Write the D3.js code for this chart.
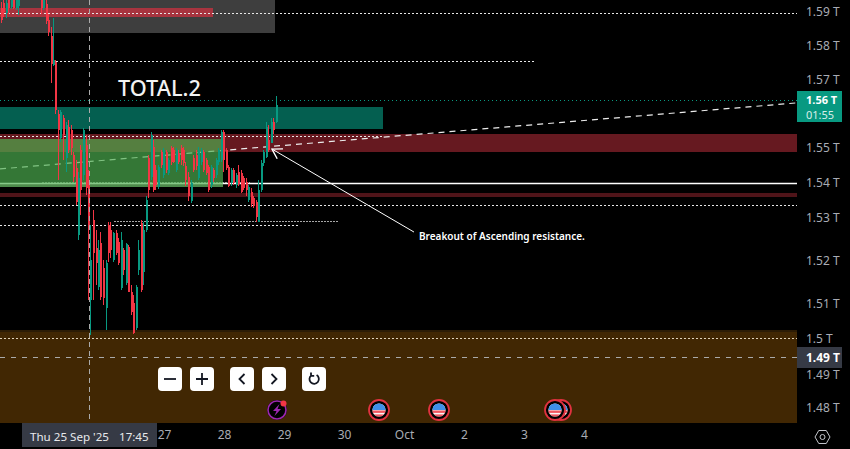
<!DOCTYPE html>
<html>
<head>
<meta charset="utf-8">
<script src="https://cdnjs.cloudflare.com/ajax/libs/d3/7.9.0/d3.min.js"></script>
<style>
html,body{margin:0;padding:0;background:#000;overflow:hidden}
svg{display:block}
text{font-family:"Noto Sans",sans-serif}
</style>
</head>
<body>
<svg id="chart" width="850" height="449"></svg>
<script>
// Market cap values are in billions of USD
const firstCandle = "2025-09-24T06:12";
const candleOpen = [1590.6,1592.0,1589.2,1592.8,1590.9,1593.6,1590.6,1591.1,1596.1,1595.6,1596.7,1595.3,1596.1,1595.0,1596.1,1595.0,1593.9,1590.6,1591.7,1587.3,1582.8,1574.8,1575.6,1561.2,1554.6,1560.1,1549.0,1557.6,1556.8,1549.9,1546.3,1527.7,1551.3,1544.3,1552.6,1541.6,1509.7,1531.9,1524.1,1513.3,1525.5,1518.6,1507.5,1530.5,1529.1,1520.8,1528.3,1525.8,1513.0,1523.6,1514.4,1524.4,1511.9,1508.9,1502.0,1518.0,1531.0,1517.4,1529.1,1549.0,1543.8,1552.1,1545.7,1541.0,1550.7,1544.3,1550.7,1544.9,1551.8,1551.3,1545.7,1550.4,1551.8,1551.3,1546.8,1543.8,1537.1,1549.0,1549.9,1543.5,1547.9,1550.7,1548.5,1546.5,1541.6,1545.7,1544.3,1547.9,1548.5,1556.2,1551.3,1546.5,1542.1,1545.7,1541.6,1545.1,1544.9,1543.5,1542.4,1537.4,1539.6,1538.0,1536.8,1531.3,1540.2,1547.6,1549.3,1554.0,1553.2,1559.0,1559.0];
const candleClose = [1587.3,1589.5,1592.0,1590.6,1593.4,1590.6,1593.6,1593.9,1595.0,1596.7,1595.3,1596.1,1595.0,1596.1,1595.0,1593.6,1590.6,1593.9,1587.0,1583.9,1575.1,1576.2,1562.3,1556.8,1561.8,1555.4,1558.2,1551.3,1551.8,1543.8,1536.8,1543.5,1540.2,1556.8,1540.7,1529.6,1520.8,1522.7,1519.9,1523.6,1510.5,1510.3,1519.9,1522.7,1523.6,1528.3,1522.7,1519.9,1526.3,1518.0,1525.2,1511.9,1506.4,1500.6,1513.3,1523.6,1512.5,1529.1,1537.4,1540.2,1555.4,1540.2,1541.6,1546.5,1547.1,1551.3,1545.7,1548.5,1547.9,1547.9,1551.3,1547.9,1548.5,1547.6,1542.9,1538.5,1542.1,1545.7,1546.8,1551.3,1551.3,1545.7,1544.9,1540.2,1546.5,1543.5,1548.5,1551.3,1556.2,1548.5,1546.3,1541.3,1545.7,1542.1,1544.3,1541.8,1539.6,1540.7,1540.2,1541.0,1536.3,1535.7,1532.7,1540.2,1547.6,1550.7,1557.6,1551.3,1559.0,1556.8,1563.7];
const candleHigh = [1592.2,1592.8,1593.4,1593.9,1594.2,1594.5,1594.5,1595.0,1597.0,1597.2,1597.8,1596.7,1597.2,1596.7,1597.0,1595.6,1595.0,1595.0,1592.8,1588.9,1585.3,1587.8,1576.2,1562.3,1562.3,1561.0,1559.0,1559.6,1558.2,1550.7,1548.5,1545.1,1552.6,1557.3,1555.4,1545.7,1530.5,1534.6,1529.1,1526.3,1528.5,1520.8,1520.8,1531.3,1531.3,1528.5,1529.1,1526.9,1528.5,1524.1,1525.5,1524.9,1513.8,1511.1,1513.8,1526.3,1531.9,1531.3,1538.5,1549.9,1556.2,1554.0,1547.1,1547.1,1551.3,1551.8,1551.3,1549.0,1552.4,1552.1,1551.8,1551.3,1552.6,1552.1,1547.9,1545.1,1542.9,1549.9,1551.3,1552.1,1551.8,1551.3,1549.0,1547.1,1547.1,1546.3,1549.0,1551.8,1556.8,1556.8,1551.8,1547.1,1546.3,1546.3,1544.9,1547.1,1545.7,1544.0,1543.5,1541.6,1540.7,1538.5,1537.4,1542.9,1548.5,1551.3,1559.0,1558.2,1560.1,1560.1,1566.2];
const candleLow = [1586.4,1588.1,1587.8,1588.9,1590.3,1590.3,1590.0,1588.6,1594.5,1595.0,1594.7,1594.5,1594.2,1594.5,1593.9,1593.1,1588.9,1590.0,1586.1,1582.8,1569.8,1574.5,1561.2,1542.9,1553.5,1548.5,1545.2,1550.4,1549.9,1542.4,1536.0,1526.3,1533.2,1542.9,1538.8,1509.7,1500.0,1509.7,1513.8,1512.5,1509.7,1508.3,1501.4,1520.2,1521.3,1520.2,1522.2,1519.4,1512.5,1516.6,1513.8,1511.9,1505.5,1500.3,1501.4,1516.6,1511.9,1513.8,1528.5,1538.0,1542.9,1539.6,1540.2,1540.4,1546.3,1543.5,1544.9,1544.3,1547.1,1547.6,1545.2,1547.4,1547.1,1546.8,1541.3,1537.1,1536.6,1545.2,1545.7,1542.9,1547.1,1545.2,1544.3,1539.6,1540.7,1542.4,1543.5,1547.1,1547.9,1545.2,1545.7,1541.0,1541.3,1541.6,1540.7,1541.3,1539.3,1540.2,1538.5,1536.8,1535.5,1535.2,1531.3,1531.3,1539.6,1546.8,1549.0,1550.7,1553.5,1555.7,1558.7];

const priceTicks = [1590.0,1580.6,1571.2,1552.1,1542.4,1532.7,1521.0,1509.1,1499.2,1489.2,1480.1];
const priceLabels = ["1.59 T","1.58 T","1.57 T","1.55 T","1.54 T","1.53 T","1.52 T","1.51 T","1.5 T","1.49 T","1.48 T"];
const dateTicks = ["2025-09-27","2025-09-28","2025-09-29","2025-09-30","2025-10-01","2025-10-02","2025-10-03","2025-10-04"];
const dateLabels = ["27","28","29","30","Oct","2","3","4"];

const lastPrice = 1565.2, lastPriceLabel = "1.56 T", countdown = "01:55";
const crossPrice = 1493.9, crossPriceLabel = "1.49 T";
const crossTime = "2025-09-25T17:45", crossDateLabel = "Thu 25 Sep '25", crossTimeLabel = "17:45";

// [top price, bottom price, end time, colour key]; all run from the left edge
const zoneTop    = [1600.0,1590.6,1563.2,1555.7,1539.3,1501.4,1500.8];
const zoneBottom = [1583.7,1588.1,1557.1,1550.7,1538.2,1500.8,1470.0];
const zoneEnd    = ["2025-09-28T20:00","2025-09-27T19:12","2025-09-30T15:12",null,null,null,null];
const greenZone  = {top:1554.3,bottom:1541.0,stripTop:1542.0,end:"2025-09-27T23:12"};

const dottedPrice = [1589.1,1576.0,1555.1,1536.0,1530.5,1499.2];
const dottedStart = [null,null,null,null,null,null];
const dottedEnd   = [null,"2025-10-03T04:00","2025-09-30T15:12",null,"2025-09-29T06:00",null];
const greyDottedPrice = [1542.5,1531.7];
const greyDottedStart = ["2025-09-24T22:48","2025-09-26T03:36"];
const greyDottedEnd   = ["2025-09-28T10:00","2025-09-29T21:12"];
const solidPrice = 1542.0;

const trendTimes = ["2025-09-24T06:00","2025-10-07T12:48"];
const trendPrices = [1546.0,1564.3];
const arrowTimes = ["2025-10-01T03:36","2025-09-28T18:48"];
const arrowPrices = [1528.5,1551.5];
const noteTime = "2025-10-01T05:36", notePrice = 1526.3, noteText = "Breakout of Ascending resistance.";
const titleText = "TOTAL.2";

const eventTimes = ["2025-09-30T13:36","2025-10-01T13:36","2025-10-03T14:24","2025-10-03T12:00"];
const sparkTime = "2025-09-28T20:48";

const W = 797, H = 423;
const t = s => new Date((s.length === 10 ? s + "T00:00" : s) + "Z");
const x = d3.scaleUtc().domain([t("2025-09-27"), t("2025-10-04")]).range([165, 585]);
const y = d3.scaleLinear().domain([1592.8, 1475.6]).range([0, 423]);
const crisp = v => Math.round(v) + 0.5;
const xEdge = (s, fallback) => s ? x(t(s)) : fallback;

const svg = d3.select("#chart");
svg.append("rect").attr("width", 850).attr("height", 449).attr("fill", "#000");
svg.append("defs").append("clipPath").attr("id", "plot").append("rect").attr("width", W).attr("height", H);
const defs = svg.select("defs");
defs.append("clipPath").attr("id", "flagClip").append("circle").attr("r", 6.6);

const plot = svg.append("g").attr("clip-path", "url(#plot)");

// zones
const zoneColors = ["#3e3e3e","#a8343f","#045f50","#661920","#4f1419","#2c1c05","#412703"];
zoneTop.forEach((top, i) => {
  const x1 = xEdge(zoneEnd[i], W);
  plot.append("rect").attr("x", 0).attr("y", Math.round(y(top)))
    .attr("width", x1).attr("height", Math.round(y(zoneBottom[i])) - Math.round(y(top)))
    .attr("fill", zoneColors[i]);
});

// solid level (runs underneath the green zone)
plot.append("line").attr("x1", 0).attr("x2", W).attr("y1", crisp(y(solidPrice))).attr("y2", crisp(y(solidPrice)))
  .attr("stroke", "#fff").attr("stroke-width", 1.3);

// grey dotted levels and the ascending resistance also run under the green zone
greyDottedPrice.forEach((p, i) => {
  plot.append("line").attr("x1", x(t(greyDottedStart[i]))).attr("x2", x(t(greyDottedEnd[i])))
    .attr("y1", crisp(y(p))).attr("y2", crisp(y(p)))
    .attr("stroke", "#a6a6a6").attr("stroke-dasharray", "2 1");
});
plot.append("line")
  .attr("x1", x(t(trendTimes[0]))).attr("y1", y(trendPrices[0]))
  .attr("x2", x(t(trendTimes[1]))).attr("y2", y(trendPrices[1]))
  .attr("stroke", "#ececec").attr("stroke-width", 1.2).attr("stroke-dasharray", "6 5");

plot.append("rect").attr("x", 0).attr("y", Math.round(y(greenZone.top)))
  .attr("width", x(t(greenZone.end))).attr("height", Math.round(y(greenZone.bottom)) - Math.round(y(greenZone.top)))
  .attr("fill", "#4caf50").attr("fill-opacity", 0.68);
plot.append("rect").attr("x", 0).attr("y", Math.round(y(greenZone.stripTop)) + 1)
  .attr("width", x(t(greenZone.end))).attr("height", Math.round(y(greenZone.bottom)) - Math.round(y(greenZone.stripTop)) - 1)
  .attr("fill", "#b5d8a0").attr("fill-opacity", 0.2);

// dotted levels
dottedPrice.forEach((p, i) => {
  plot.append("line").attr("x1", xEdge(dottedStart[i], 0)).attr("x2", xEdge(dottedEnd[i], W))
    .attr("y1", crisp(y(p))).attr("y2", crisp(y(p)))
    .attr("stroke", i === 5 ? "#e0d2ba" : "#e8e8e8").attr("stroke-dasharray", "2 2");
});
plot.append("line").attr("x1", 0).attr("x2", W).attr("y1", crisp(y(lastPrice))).attr("y2", crisp(y(lastPrice)))
  .attr("stroke", "#089981").attr("stroke-dasharray", "1 3");

// candles
const step = 3600e3;
const start = t(firstCandle).getTime();
const candles = candleOpen.map((o, i) => ({ time: new Date(start + i * step), o, c: candleClose[i], h: candleHigh[i], l: candleLow[i] }));
const red = "#f23645", green = "#089981";
const cg = plot.append("g").attr("shape-rendering", "crispEdges");
cg.selectAll("line").data(candles).join("line")
  .attr("x1", d => Math.round(x(d.time)) + 0.5).attr("x2", d => Math.round(x(d.time)) + 0.5)
  .attr("y1", d => y(d.h)).attr("y2", d => y(d.l))
  .attr("stroke", d => d.c >= d.o ? green : red);
cg.selectAll("rect").data(candles).join("rect")
  .attr("x", d => Math.round(x(d.time))).attr("width", 2)
  .attr("y", d => y(Math.max(d.o, d.c))).attr("height", d => Math.max(1, Math.abs(y(d.o) - y(d.c))))
  .attr("fill", d => d.c >= d.o ? green : red);

// arrow annotation
const ax0 = x(t(arrowTimes[0])), ay0 = y(arrowPrices[0]), ax1 = x(t(arrowTimes[1])), ay1 = y(arrowPrices[1]);
plot.append("line").attr("x1", ax0).attr("y1", ay0).attr("x2", ax1).attr("y2", ay1).attr("stroke", "#fff");
const ang = Math.atan2(ay0 - ay1, ax0 - ax1);
const head = [ang - 0.55, ang + 0.55].map(a => [ax1 + 11 * Math.cos(a), ay1 + 11 * Math.sin(a)]);
plot.append("path").attr("d", d3.line()([head[0], [ax1, ay1], head[1]])).attr("fill", "none").attr("stroke", "#fff").attr("stroke-width", 1.4);

plot.append("text").attr("x", x(t(noteTime))).attr("y", y(notePrice)).attr("fill", "#fff")
  .attr("font-size", 10).attr("font-weight", 600).text(noteText);

plot.append("text").attr("x", 118).attr("y", 96).attr("fill", "#f2f2f2").attr("font-size", 21.7).attr("font-weight", 500).text(titleText);

// crosshair
const cx = x(t(crossTime));
plot.append("line").attr("x1", crisp(cx)).attr("x2", crisp(cx)).attr("y1", 0).attr("y2", H).attr("stroke", "#aaa").attr("stroke-dasharray", "5 4");
plot.append("line").attr("x1", 0).attr("x2", W).attr("y1", crisp(y(crossPrice))).attr("y2", crisp(y(crossPrice))).attr("stroke", "#aaa").attr("stroke-dasharray", "5 6");

// navigation buttons
const buttonLefts = [158,190,230,262,302];
const buttonIcons = ["M-6 0H6","M-6 0H6M0 -6V6","M2.5 -5L-2.5 0L2.5 5","M-2.5 -5L2.5 0L-2.5 5","M-2.7 -3.6A4.7 4.7 0 1 0 2.6 -3.9M-3 -6.4V-3.2H0.2"];
const btn = plot.selectAll("g.btn").data(buttonLefts).join("g").attr("class", "btn").attr("transform", d => `translate(${d + 12},379)`);
btn.append("rect").attr("x", -12).attr("y", -12).attr("width", 24).attr("height", 24).attr("rx", 4).attr("fill", "#fff");
btn.append("path").attr("d", (d, i) => buttonIcons[i]).attr("fill", "none").attr("stroke", "#131722").attr("stroke-width", 1.8);

// economic event flags
const flags = plot.selectAll("g.flag").data(eventTimes).join("g").attr("class", "flag").attr("transform", d => `translate(${x(t(d))},410)`);
flags.append("circle").attr("r", 10).attr("fill", "#000").attr("stroke", "#e0323f").attr("stroke-width", 1.8);
const flagInner = flags.append("g").attr("clip-path", "url(#flagClip)");
flagInner.append("rect").attr("x", -7).attr("y", -7).attr("width", 14).attr("height", 14).attr("fill", "#f7f7f7");
flagInner.append("rect").attr("x", -7).attr("y", 0.5).attr("width", 14).attr("height", 2.4).attr("fill", "#f0565f");
flagInner.append("rect").attr("x", -7).attr("y", 4.4).attr("width", 14).attr("height", 3).attr("fill", "#f0565f");
flagInner.append("rect").attr("x", -7).attr("y", -7).attr("width", 14).attr("height", 7).attr("fill", "#3f8fe8");

// spark icon
const sp = plot.append("g").attr("transform", `translate(${x(t(sparkTime))},410)`);
sp.append("circle").attr("r", 10).attr("fill", "#000");
sp.append("circle").attr("r", 9).attr("fill", "#000").attr("stroke", "#9c27b0").attr("stroke-width", 1.6);
sp.append("path").attr("d", "M2.5 -6L-4 1H-0.5L-2.5 6L4 -1H0.5Z").attr("fill", "#9c27b0");
sp.append("circle").attr("cx", 6.5).attr("cy", -6.5).attr("r", 3).attr("fill", "#f23645");

// axes
const yAxis = d3.axisRight(y).tickValues(priceTicks).tickFormat((d, i) => priceLabels[i]).tickSize(0).tickPadding(9);
const gy = svg.append("g").attr("transform", `translate(${W},0)`).call(yAxis);
gy.select(".domain").remove();
gy.selectAll("text").attr("fill", "#a9acb4").attr("font-size", 12).attr("dy", ".42em").attr("font-family", '"Noto Sans",sans-serif');

const xAxis = d3.axisBottom(x).tickValues(dateTicks.map(t)).tickFormat((d, i) => dateLabels[i]).tickSize(0).tickPadding(7);
const gx = svg.append("g").attr("transform", `translate(-1,${H})`).call(xAxis);
gx.select(".domain").remove();
gx.selectAll("text").attr("fill", "#a9acb4").attr("font-size", 12).attr("font-family", '"Noto Sans",sans-serif');

// crosshair date tag
svg.append("rect").attr("x", 22).attr("y", H).attr("width", 135).attr("height", 24).attr("fill", "#363a45");
svg.append("text").attr("x", 30).attr("y", 441).attr("fill", "#e8e9ec").attr("font-size", 11.6).text(crossDateLabel);
svg.append("text").attr("x", 119).attr("y", 441).attr("fill", "#e8e9ec").attr("font-size", 11.6).text(crossTimeLabel);

// last price tag
svg.append("rect").attr("x", W).attr("y", 91).attr("width", 45).attr("height", 31).attr("fill", "#089981");
svg.append("text").attr("x", 806).attr("y", 104).attr("fill", "#fff").attr("font-size", 11).attr("font-weight", 700).text(lastPriceLabel);
svg.append("text").attr("x", 806).attr("y", 119).attr("fill", "#d6eee8").attr("font-size", 11).text(countdown);

// crosshair price tag
svg.append("rect").attr("x", W).attr("y", 347).attr("width", 45).attr("height", 21).attr("fill", "#363a45");
svg.append("text").attr("x", 806).attr("y", 362).attr("fill", "#fff").attr("font-size", 12).attr("font-weight", 700).text(crossPriceLabel);

// settings icon
const hex = d3.range(6).map(i => [822.5 + 7.5 * Math.cos(i * Math.PI / 3), 437 + 7.5 * Math.sin(i * Math.PI / 3)]);
svg.append("path").attr("d", d3.line()(hex) + "Z").attr("fill", "none").attr("stroke", "#c4c6cc").attr("stroke-width", 1);
svg.append("circle").attr("cx", 822.5).attr("cy", 437).attr("r", 2.5).attr("fill", "none").attr("stroke", "#c4c6cc");
</script>
</body>
</html>
